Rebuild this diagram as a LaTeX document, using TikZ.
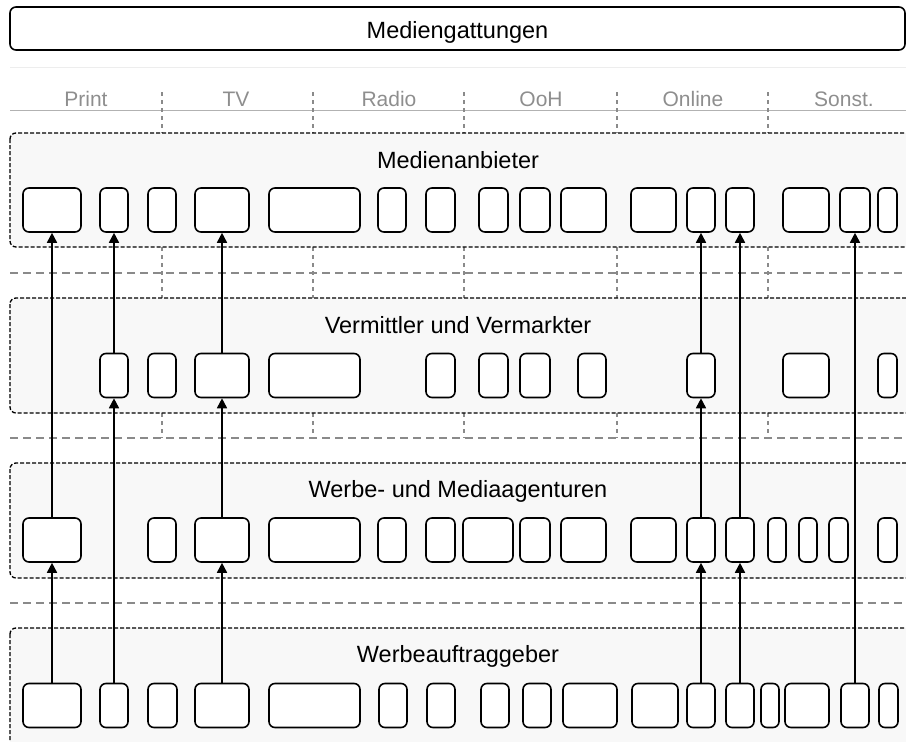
\documentclass[tikz,border=0pt]{standalone}
\usepackage{fontspec}
\setmainfont{Liberation Sans}
\usetikzlibrary{arrows.meta,positioning}
\definecolor{ebenegrau}{HTML}{F8F8F8}
\definecolor{strichgrau}{HTML}{8A8A8A}
\definecolor{kopfgrau}{HTML}{8E8E8E}

\begin{document}
\begin{tikzpicture}[x=1pt,y=-1pt,
  kasten/.style={draw,line width=1.6pt,rounded corners=6pt,fill=white,
    minimum height=44pt,inner sep=0pt},
  ebene/.style={draw,line width=1.3pt,dash pattern=on 4pt off 2pt,
    rounded corners=6pt,fill=ebenegrau},
  titel/.style={font=\fontsize{23.5}{27}\selectfont,anchor=base},
  spalte/.style={font=\fontsize{21}{24}\selectfont,text=kopfgrau,anchor=base},
  trenner/.style={strichgrau,line width=1.3pt,dash pattern=on 8pt off 5pt},
  kurztrenner/.style={strichgrau,line width=1.1pt,dash pattern=on 4pt off 4pt},
  arrow/.style={-{Triangle[length=10pt,width=10pt]},line width=1.7pt}
]
\useasboundingbox (0,0) rectangle (906,742);
\clip (0,0) rectangle (906,742);

% ---- Kopf: Mediengattungen ----
\node[draw,line width=1.6pt,rounded corners=6pt,minimum width=895pt,
  minimum height=43pt,inner sep=0pt,text height=19pt,text depth=0pt,
  font=\fontsize{23.5}{27}\selectfont] (gattung) at (457.5,28.5) {Mediengattungen};
\draw[black!7] (10,67) -- (906,67);
\draw[black!30,line width=1pt] (10,110) -- (906,110);
\foreach \x/\t in {86/Print,236/TV,389/Radio,541/OoH,693/Online,844/Sonst.}
  \node[spalte] (s\t) at (\x,106) {\t};

% ---- Trennlinien zwischen den Ebenen ----
\foreach \x in {162,313,464,617,768} {
  \draw[kurztrenner] (\x,92) -- (\x,133);
  \draw[kurztrenner] (\x,247) -- (\x,298);
  \draw[kurztrenner] (\x,413) -- (\x,438);
}
\foreach \y in {273,438,603}
  \draw[trenner] (10,\y) -- (906,\y);

% ---- Ebene 1: Medienanbieter ----
\draw[ebene] (10,133) rectangle (920,247);
\node[titel] (t1) at (458,168) {Medienanbieter};
\foreach \n/\l/\r in {1/23/81,2/100/128,3/148/176,4/195/249,5/269/360,%
    6/378/406,7/426/455,8/479/508,9/520/550,10/561/606,11/631/676,%
    12/687/715,13/726/754,14/783/829,15/840/870,16/878/897}
  \node[kasten,minimum width={(\r-\l)*1pt}] (a\n) at ({(\l+\r)/2},210) {};

% ---- Ebene 2: Vermittler und Vermarkter ----
\draw[ebene] (10,298) rectangle (920,413);
\node[titel] (t2) at (458,333) {Vermittler und Vermarkter};
\foreach \n/\l/\r in {2/100/128,3/148/176,4/195/249,5/269/360,7/426/455,%
    8/479/508,9/520/550,10/578/606,12/687/715,14/783/829,16/878/897}
  \node[kasten,minimum width={(\r-\l)*1pt}] (v\n) at ({(\l+\r)/2},375.5) {};

% ---- Ebene 3: Werbe- und Mediaagenturen ----
\draw[ebene] (10,463) rectangle (920,578);
\node[titel] (t3) at (458,497) {Werbe- und Mediaagenturen};
\foreach \n/\l/\r in {1/23/81,3/148/176,4/195/249,5/269/360,6/378/406,%
    7/426/455,8/463/513,9/520/550,10/561/606,11/631/676,12/687/715,%
    13/726/754,14/768/786,15/799/817,16/829/848,17/878/897}
  \node[kasten,minimum width={(\r-\l)*1pt}] (m\n) at ({(\l+\r)/2},540) {};

% ---- Ebene 4: Werbeauftraggeber ----
\draw[ebene] (10,628) rectangle (920,760);
\node[titel] (t4) at (458,662) {Werbeauftraggeber};
\foreach \n/\l/\r in {1/23/81,2/100/128,3/148/177,4/195/249,5/269/360,%
    6/379/407,7/427/455,8/481/509,9/523/551,10/563/617,11/632/678,%
    12/687/715,13/726/754,14/761/779,15/785/829,16/841/869,17/879/898}
  \node[kasten,minimum width={(\r-\l)*1pt}] (w\n) at ({(\l+\r)/2},705.5) {};

% ---- Pfeile ----
\foreach \s/\z in {w1/m1,m1/a1,w2/v2,v2/a2,w4/m4,m4/v4,v4/a4,%
    w12/m12,m12/v12,v12/a12,w13/m13,m13/a13,w16/a15}
  \draw[arrow] (\s.north) -- (\s.north |- \z.south);
\end{tikzpicture}
\end{document}
